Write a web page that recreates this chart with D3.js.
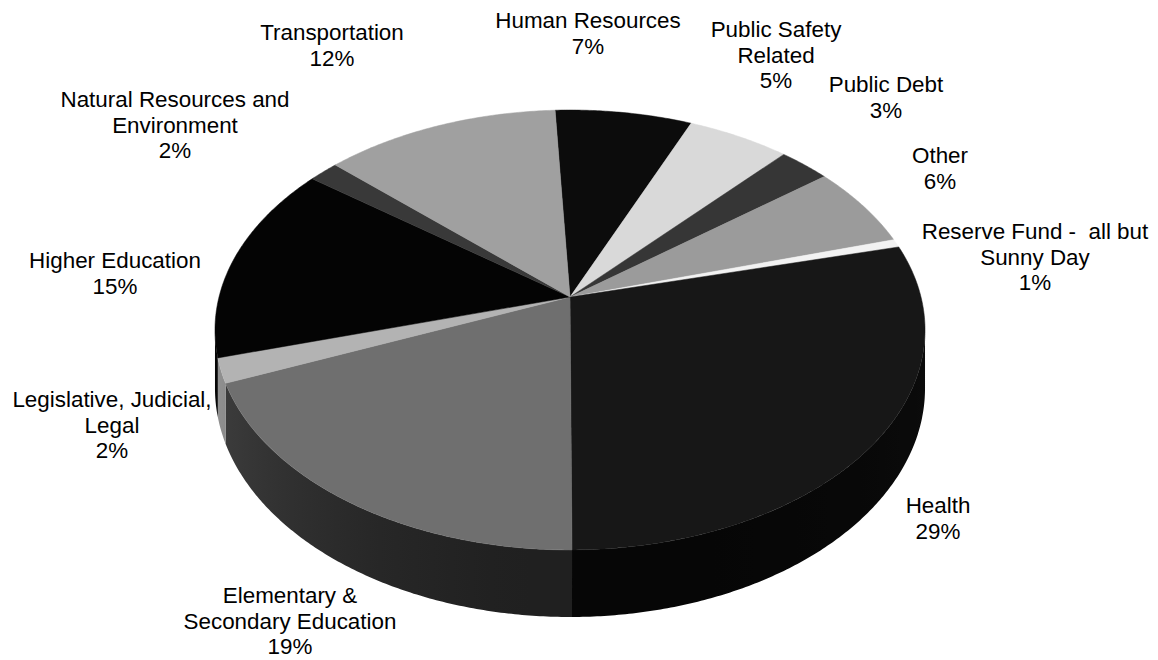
<!DOCTYPE html>
<html>
<head>
<meta charset="utf-8">
<script src="https://cdn.jsdelivr.net/npm/d3@7"></script>
<style>
  html, body { margin: 0; padding: 0; background: #ffffff; }
  svg { display: block; }
  text { font-family: "Liberation Sans", Arial, sans-serif; fill: #000; }
</style>
</head>
<body>
<svg id="chart" width="1158" height="660"></svg>
<script>
// ---- data (clockwise from 12 o'clock) ----
const categories = [
  "Human Resources",
  "Public Safety\nRelated",
  "Public Debt",
  "Other",
  "Reserve Fund -  all but\nSunny Day",
  "Health",
  "Elementary &\nSecondary Education",
  "Legislative, Judicial,\nLegal",
  "Higher Education",
  "Natural Resources and\nEnvironment",
  "Transportation"
];
const values = [7.2, 5.4, 2.7, 6.0, 0.6, 28.8, 18.9, 1.8, 14.6, 1.6, 12.4];

// ---- styling ----
const topColors  = ["#0c0c0c", "#d9d9d9", "#363636", "#9b9b9b", "#f2f2f2", "#171717",
                    "#6f6f6f", "#b3b3b3", "#040404", "#393939", "#a0a0a0"];
const wallBase   = [8, 170, 40, 120, 190, 11, 64, 150, 6, 40, 130];
// label anchors: [centre x, centre y of first line]
const labelAnchors = [[588, 20], [776, 29], [886, 84], [940, 155], [1035, 231], [938, 505],
                      [290, 595], [112, 399], [115, 260], [175, 99], [332, 32]];

const svg = d3.select("#chart");
const defs = svg.append("defs");

// perspective projection of the tilted pie
const CX = 570, CY = 297, A = 351, B = 215, K = 0.15, DEPTH = 57;
function proj(phi, drop) {
  const u = Math.cos(phi), v = Math.sin(phi);
  const w = 1 - K * v;
  return [CX + A * u / w, CY + (B * v + drop) / w];
}

const startDeg = -2.8;
const pie = d3.pie().sort(null).value(d => d)
  .startAngle(startDeg * Math.PI / 180)
  .endAngle(startDeg * Math.PI / 180 + 2 * Math.PI);
const arcs = pie(values);
const toPhi = a => a - Math.PI / 2;   // pie angle (cw from top) -> screen angle

const gWalls = svg.append("g");
const gTops = svg.append("g");
const gLabels = svg.append("g");

// visible outer wall range
const visLo = Math.asin(K), visHi = Math.PI - Math.asin(K);
const step = Math.PI / 360;

arcs.forEach((a, i) => {
  const p0 = toPhi(a.startAngle), p1 = toPhi(a.endAngle);
  const lo = Math.max(p0, visLo), hi = Math.min(p1, visHi);
  if (hi <= lo) return;
  const n = Math.max(2, Math.ceil((hi - lo) / step));
  const topPts = [], botPts = [];
  for (let j = 0; j <= n; j++) {
    const f = lo + (hi - lo) * j / n;
    topPts.push(proj(f, 0));
    botPts.push(proj(f, DEPTH));
  }
  const pts = topPts.concat(botPts.reverse());
  // horizontal gradient following the lighting along the arc
  const xa = proj(lo, 0)[0], xb = proj(hi, 0)[0];
  const grad = defs.append("linearGradient")
    .attr("id", "wall" + i)
    .attr("gradientUnits", "userSpaceOnUse")
    .attr("x1", xa).attr("y1", 0).attr("x2", xb).attr("y2", 0);
  const ns = 12;
  for (let s = 0; s <= ns; s++) {
    const f = lo + (hi - lo) * s / ns;
    const x = proj(f, 0)[0];
    const off = xb === xa ? 0 : (x - xa) / (xb - xa);
    const c = Math.cos(f);
    const lum = Math.round(wallBase[i] * (0.5 + 0.5 * c * c));
    grad.append("stop").attr("offset", Math.max(0, Math.min(1, off)))
      .attr("stop-color", d3.rgb(lum, lum, lum).toString());
  }
  gWalls.append("path")
    .attr("d", "M" + pts.map(p => p.join(",")).join("L") + "Z")
    .attr("fill", "url(#wall" + i + ")")
    .attr("stroke", "none");
});

arcs.forEach((a, i) => {
  const p0 = toPhi(a.startAngle), p1 = toPhi(a.endAngle);
  const n = Math.max(2, Math.ceil((p1 - p0) / step));
  const pts = [[CX, CY]];
  for (let j = 0; j <= n; j++) pts.push(proj(p0 + (p1 - p0) * j / n, 0));
  gTops.append("path")
    .attr("d", "M" + pts.map(p => p.join(",")).join("L") + "Z")
    .attr("fill", topColors[i]).attr("stroke", topColors[i]).attr("stroke-width", 0.5)
    .attr("stroke-linejoin", "round");
});

// labels
const pct = d3.format(".0f");
arcs.forEach((a, i) => {
  const lines = categories[i].split("\n").concat([pct(values[i]) + "%"]);
  const [x, y] = labelAnchors[i];
  const t = gLabels.append("text")
    .attr("text-anchor", "middle")
    .attr("font-size", 22.4)
    .attr("xml:space", "preserve")
    .style("white-space", "pre");
  lines.forEach((ln, k) => {
    t.append("tspan").attr("x", x).attr("y", y + k * 25.8).attr("dy", "0.35em").text(ln);
  });
});
</script>
</body>
</html>
